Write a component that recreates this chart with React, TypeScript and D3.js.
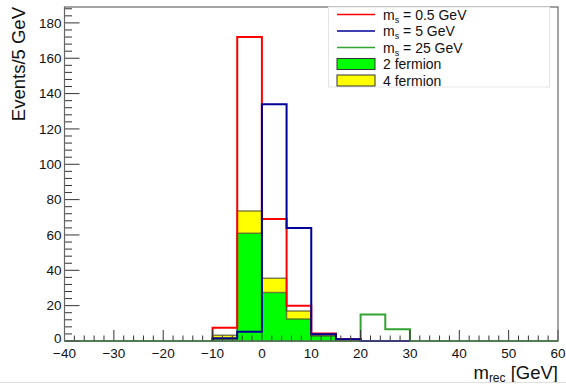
import React from 'react';
import * as d3 from 'd3';

// bin low edges, 5 GeV wide, from -40 to 60
const binEdges = d3.range(-40, 65, 5);

// signal samples (null = bin not drawn)
const ms05 = [null, null, null, null, null, null, 7.5, 172, 69, 20, 4.3, 1, null, null, null, null, null, null, null, null];
const ms5 = [null, null, null, null, null, null, 1.5, 5.3, 134, 64, 3.8, 1, 0, 0, null, null, null, null, null, null];
const ms25 = [0, 0, 0, 0, 0, 0, 0, 0, 0, 0, 0, 0, 15, 6.6, 0, 0, 0, 0, 0, 0];

// backgrounds (stacked)
const bkg2f = [0, 0, 0, 0, 0, 0, 1, 61, 27.5, 12.4, 2.8, 1, 0, 0, 0, 0, 0, 0, 0, 0];
const bkg4f = [0, 0, 0, 0, 0, 0, 2.2, 12.6, 8, 4.6, 0.6, 0, 0, 0, 0, 0, 0, 0, 0, 0];

const xTicks = [-40, -30, -20, -10, 0, 10, 20, 30, 40, 50, 60];
const yTicks = [0, 20, 40, 60, 80, 100, 120, 140, 160, 180];

const W = 566;
const H = 384;
const left = 64.5;
const right = 558;
const top = 7;
const bottom = 341;

const font = '"Liberation Sans", Arial, Helvetica, sans-serif';

export default function App() {
  const x = d3.scaleLinear().domain([-40, 60]).range([left, right]);
  const y = d3.scaleLinear().domain([0, 189]).range([bottom, top]);

  // step path for a histogram; skips null bins
  const stepPath = (vals: (number | null)[]) => {
    let d = '';
    let open = false;
    vals.forEach((v, i) => {
      const x0 = x(binEdges[i]);
      const x1 = x(binEdges[i + 1]);
      if (v === null) {
        if (open) { d += `V${y(0)}`; open = false; }
        return;
      }
      if (!open) { d += `M${x0},${y(0)}`; open = true; }
      d += `V${y(v)}H${x1}`;
    });
    if (open) d += `V${y(0)}`;
    return d;
  };

  const stackTop = bkg2f.map((v, i) => v + bkg4f[i]);

  const fillPath = (lo: number[], hi: number[]) => {
    let d = '';
    hi.forEach((v, i) => {
      if (v - lo[i] <= 0) return;
      const x0 = x(binEdges[i]);
      const x1 = x(binEdges[i + 1]);
      d += `M${x0},${y(lo[i])}V${y(v)}H${x1}V${y(lo[i])}Z`;
    });
    return d;
  };
  const zeros = bkg2f.map(() => 0);

  const yMinor = d3.range(0, 189, 4);
  const xMinor = d3.range(-40, 61, 2);

  const legendRows = [
    { kind: 'line', color: '#ff0000', label: 'm', sub: 's', rest: ' = 0.5 GeV' },
    { kind: 'line', color: '#000099', label: 'm', sub: 's', rest: ' = 5 GeV' },
    { kind: 'line', color: '#33a333', label: 'm', sub: 's', rest: ' = 25 GeV' },
    { kind: 'box', color: '#00ff00', label: '2 fermion', sub: '', rest: '' },
    { kind: 'box', color: '#ffff00', label: '4 fermion', sub: '', rest: '' },
  ];

  return (
    <svg width={W} height={H} style={{ position: 'absolute', left: 0, top: 0, background: '#fff' }} fontFamily={font}>
      {/* stacked backgrounds */}
      <path d={fillPath(zeros, bkg2f)} fill="#00ff00" />
      <path d={fillPath(bkg2f, stackTop)} fill="#ffff00" />
      <path d={stepPath(bkg2f.map((v, i) => (i >= 6 && i <= 11 ? v : null)))} fill="none" stroke="#4a4a2a" strokeWidth={1.5} strokeOpacity={0.7} />
      <path d={stepPath(stackTop.map((v, i) => (i >= 6 && i <= 11 ? v : null)))} fill="none" stroke="#4a4a2a" strokeWidth={1.5} strokeOpacity={0.7} />

      {/* signal histograms */}
      <path d={stepPath(ms25)} fill="none" stroke="#33a333" strokeWidth={2} />
      <path d={stepPath(ms05)} fill="none" stroke="#ff0000" strokeWidth={2} />
      <path d={stepPath(ms5)} fill="none" stroke="#000099" strokeWidth={2} />

      {/* ticks */}
      <g stroke="#333" strokeWidth={1}>
        {yMinor.map(v => (
          <line key={'ym' + v} x1={left} x2={left + (v % 20 === 0 ? 15 : 7.5)} y1={y(v)} y2={y(v)} />
        ))}
        {xMinor.map(v => (
          <line key={'xm' + v} x1={x(v)} x2={x(v)} y1={bottom} y2={bottom - (v % 10 === 0 ? 11 : 5.5)} />
        ))}
      </g>

      {/* frame */}
      <rect x={left} y={top} width={right - left} height={bottom - top} fill="none" stroke="#666" strokeWidth={1.2} />

      {/* tick labels */}
      <g fontSize={13.5} fill="#111">
        {yTicks.map(v => (
          <text key={'yl' + v} x={left - 3} y={y(v) - (v === 0 ? 3 : 0)} dy="0.35em" textAnchor="end">{v}</text>
        ))}
        {xTicks.map(v => (
          <text key={'xl' + v} x={x(v)} y={358} textAnchor="middle">{v < 0 ? `\u2212${-v}` : v}</text>
        ))}
      </g>

      {/* axis titles */}
      <text transform={`translate(25,${top}) rotate(-90)`} textAnchor="end" fontSize={18.5} fill="#111">Events/5 GeV</text>
      <text x={right} y={379} textAnchor="end" fontSize={18.5} fill="#111">
        m<tspan fontSize={12} dy={3}>rec</tspan><tspan dy={-3}> [GeV]</tspan>
      </text>

      {/* legend */}
      <rect x={328.5} y={7} width={221} height={80} fill="#fff" stroke="#e4e4e4" strokeWidth={1} />
      {legendRows.map((r, i) => {
        const cy = 14.5 + i * 16.5;
        return (
          <g key={'lg' + i}>
            {r.kind === 'line' ? (
              <line x1={337} x2={375} y1={cy} y2={cy} stroke={r.color} strokeWidth={1.5} />
            ) : (
              <rect x={337} y={cy - 5.5} width={38} height={11} fill={r.color} stroke="#333" strokeWidth={1} />
            )}
            <text x={383} y={cy} dy="0.38em" fontSize={14} fill="#111">
              {r.label}
              {r.sub && <tspan fontSize={9} dy={3}>{r.sub}</tspan>}
              {r.rest && <tspan dy={r.sub ? -3 : 0}>{r.rest}</tspan>}
            </text>
          </g>
        );
      })}

      {/* page edge */}
      <line x1={0} x2={W} y1={382.5} y2={382.5} stroke="#e0e0e0" />
    </svg>
  );
}
